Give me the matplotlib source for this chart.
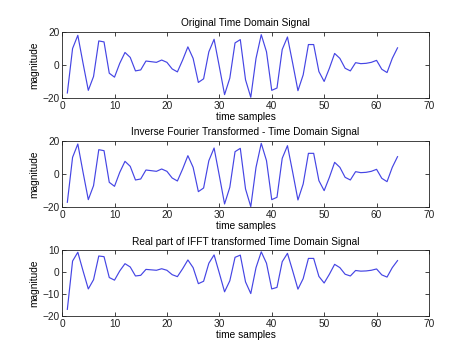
import numpy as np
import matplotlib
matplotlib.use("Agg")
import matplotlib.pyplot as plt

plt.rcParams["font.family"] = ["Liberation Sans", "DejaVu Sans"]
plt.rcParams["font.size"] = 7.3

samples = list(range(1, 65))

original = [-17, 10, 18, 1, -15.4, -7, 14.6, 14, -5, -7.4,
            1, 7.6, 4.6, -3.6, -3, 2.4, 2, 1.6, 3, 1.6,
            -2.4, -4.2, 3, 11, 4, -10.6, -8.4, 8, 15.6, -1,
            -18, -8, 13.4, 15.4, -9, -19.6, 4, 18.4, 8, -15.4,
            -14, 9.4, 17, 1, -15.6, -6, 12.4, 12.4, -4, -10,
            -2, 7, 4, -2, -3.6, 1.4, 0.8, 1, 1.6, 2.8,
            -2.6, -4.6, 4, 10.4]

# inverse transform gives back the same samples
inverse = [-17, 10, 18, 1, -15.4, -7, 14.6, 14, -5, -7.4,
           1, 7.6, 4.6, -3.6, -3, 2.4, 2, 1.6, 3, 1.6,
           -2.4, -4.2, 3, 11, 4, -10.6, -8.4, 8, 15.6, -1,
           -18, -8, 13.4, 15.4, -9, -19.6, 4, 18.4, 8, -15.4,
           -14, 9.4, 17, 1, -15.6, -6, 12.4, 12.4, -4, -10,
           -2, 7, 4, -2, -3.6, 1.4, 0.8, 1, 1.6, 2.8,
           -2.6, -4.6, 4, 10.4]

real_part = [-17, 5, 9, 0.5, -7.7, -3.5, 7.3, 7, -2.5, -3.7,
             0.5, 3.8, 2.3, -1.8, -1.5, 1.2, 1, 0.8, 1.5, 0.8,
             -1.2, -2.1, 1.5, 5.5, 2, -5.3, -4.2, 4, 7.8, -0.5,
             -9, -4, 6.7, 7.7, -4.5, -9.8, 2, 9.2, 4, -7.7,
             -7, 4.7, 8.5, 0.5, -7.8, -3, 6.2, 6.2, -2, -5,
             -1, 3.5, 2, -1, -1.8, 0.7, 0.4, 0.5, 0.8, 1.4,
             -1.3, -2.3, 2, 5.2]

titles = ["Original Time Domain Signal",
          "Inverse Fourier Transformed - Time Domain Signal",
          "Real part of IFFT transformed Time Domain Signal"]
series = [original, inverse, real_part]
ylims = [(-20, 20), (-20, 20), (-20, 10)]
yticks = [[-20, 0, 20], [-20, 0, 20], [-20, -10, 0, 10]]

fig = plt.figure(figsize=(4.74, 3.64), dpi=100)
positions = [[0.131, 0.731, 0.774, 0.181],
             [0.131, 0.4305, 0.774, 0.183],
             [0.131, 0.132, 0.774, 0.181]]

for pos, title, ys, ylim, yt in zip(positions, titles, series, ylims, yticks):
    ax = fig.add_axes(pos)
    ax.plot(samples, ys, color="#4545e4", linewidth=0.85)
    ax.set_xlim(0, 70)
    ax.set_ylim(*ylim)
    ax.set_xticks(range(0, 71, 10))
    ax.set_yticks(yt)
    ax.tick_params(direction="in", length=3, width=0.6, top=True, right=True,
                   pad=2, labelsize=7.3, colors="#222222")
    for s in ax.spines.values():
        s.set_linewidth(0.6)
        s.set_color("#222222")
    ax.set_title(title, fontsize=7.3, pad=4)
    ax.set_xlabel("time samples", labelpad=1)
    ax.set_ylabel("magnitude", labelpad=2)

fig.savefig("out.png", dpi=100)
